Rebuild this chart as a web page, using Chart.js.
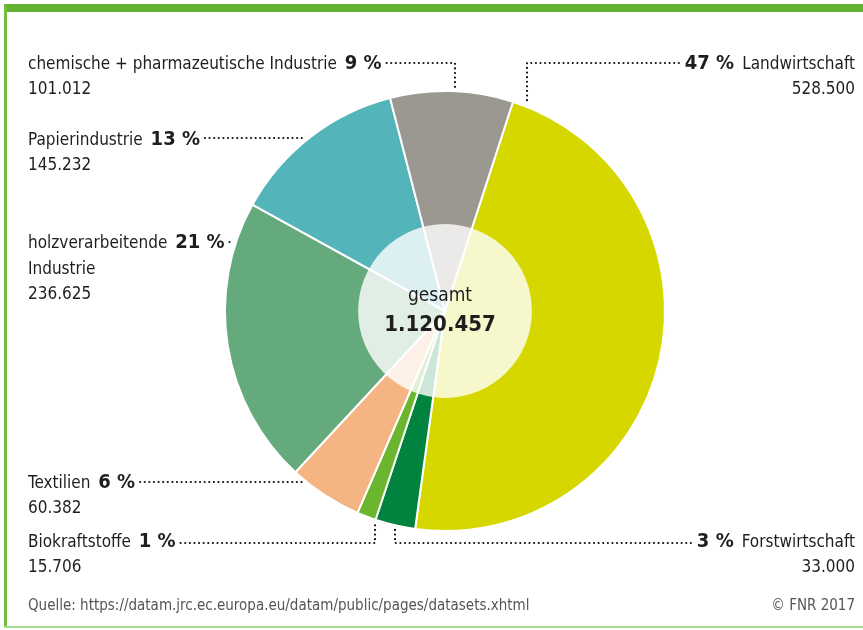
<!DOCTYPE html>
<html>
<head>
<meta charset="utf-8">
<script src="https://cdn.jsdelivr.net/npm/chart.js@4.4.0/dist/chart.umd.min.js"></script>
<style>
	body { margin: 0; background: #fff; }
	#wrap { position: relative; width: 863px; height: 630px; overflow: hidden; }
	#topbar { position: absolute; left: 4px; top: 4px; width: 859px; height: 8px; background: #63b22f; }
	#leftbar { position: absolute; left: 4px; top: 4px; width: 3px; height: 624px; background: #73be3e; }
	#bottombar { position: absolute; left: 4px; top: 626px; width: 859px; height: 2px; background: #a9de90; }
	canvas { position: absolute; left: 0; top: 0; }
</style>
</head>
<body>
<div id="wrap">
	<canvas id="pie" width="863" height="630"></canvas>
	<div id="topbar"></div>
	<div id="leftbar"></div>
	<div id="bottombar"></div>
</div>
<script>
// data, clockwise from the top right
const categories = ['Landwirtschaft', 'Forstwirtschaft', 'Biokraftstoffe', 'Textilien', 'holzverarbeitende Industrie', 'Papierindustrie', 'chemische + pharmazeutische Industrie'];
const values = [528500, 33000, 15706, 60382, 236625, 145232, 101012];
const percentLabels = ['47 %', '3 %', '1 %', '6 %', '21 %', '13 %', '9 %'];
const valueLabels = ['528.500', '33.000', '15.706', '60.382', '236.625', '145.232', '101.012'];
const totalLabel = '1.120.457';
const colors = ['#d7d700', '#00833e', '#6cb52f', '#f4b583', '#64aa7c', '#53b4b9', '#9b9891'];

const FONT = '"Liberation Sans Narrow", "DejaVu Sans Condensed", sans-serif';
const TXT = '#1e1e1e';

// label layout: text lines, side, leader line
const labelLayout = [
	{ i: 0, side: 'right', x: 855, y: 65, lines: ['Landwirtschaft'], lead: { y: 63, vx: 527 } },
	{ i: 1, side: 'right', x: 855, y: 543, lines: ['Forstwirtschaft'], lead: { y: 543, vx: 395, up: true } },
	{ i: 2, side: 'left', x: 28, y: 543, lines: ['Biokraftstoffe'], lead: { y: 543, vx: 375, up: true } },
	{ i: 3, side: 'left', x: 28, y: 484, lines: ['Textilien'], lead: { y: 482 } },
	{ i: 4, side: 'left', x: 28, y: 244, lines: ['holzverarbeitende', 'Industrie'], lead: { y: 242 } },
	{ i: 5, side: 'left', x: 28, y: 141, lines: ['Papierindustrie'], lead: { y: 138 } },
	{ i: 6, side: 'left', x: 28, y: 65, lines: ['chemische + pharmazeutische Industrie'], lead: { y: 63, vx: 455 } }
];

function dotted(ctx, pts) {
	ctx.save();
	ctx.strokeStyle = '#111';
	ctx.lineWidth = 2.2;
	ctx.lineCap = 'round';
	ctx.setLineDash([0.01, 4.6]);
	ctx.beginPath();
	ctx.moveTo(pts[0][0], pts[0][1]);
	for (let k = 1; k < pts.length; k++) ctx.lineTo(pts[k][0], pts[k][1]);
	ctx.stroke();
	ctx.restore();
}

const labelPlugin = {
	id: 'labels',
	afterDatasetsDraw(chart) {
		const ctx = chart.ctx;
		const arc = chart.getDatasetMeta(0).data[0];
		const cx = arc.x, cy = arc.y, r = arc.outerRadius;

		// centre disc
		ctx.save();
		ctx.fillStyle = 'rgba(255,255,255,0.8)';
		ctx.beginPath();
		ctx.arc(cx, cy, r * 0.395, 0, Math.PI * 2);
		ctx.fill();
		ctx.fillStyle = TXT;
		ctx.textAlign = 'center';
		ctx.textBaseline = 'middle';
		ctx.font = '19px ' + FONT;
		ctx.fillText('gesamt', cx - 5, cy - 15);
		ctx.font = 'bold 22px ' + FONT;
		ctx.fillText(totalLabel, cx - 5, cy + 14);
		ctx.restore();

		// labels
		ctx.save();
		ctx.textBaseline = 'middle';
		labelLayout.forEach(function(l) {
			const pct = percentLabels[l.i];
			let endX;
			ctx.font = '17px ' + FONT;
			const nameW = ctx.measureText(l.lines[0]).width;
			ctx.font = 'bold 20px ' + FONT;
			const pctW = ctx.measureText(pct).width;
			if (l.side === 'left') {
				ctx.font = '17px ' + FONT;
				ctx.textAlign = 'left';
				ctx.fillStyle = TXT;
				ctx.fillText(l.lines[0] + ' ', l.x, l.y);
				const sp = ctx.measureText(l.lines[0] + ' ').width + 3;
				ctx.font = 'bold 20px ' + FONT;
				ctx.fillText(pct, l.x + sp, l.y - 1);
				endX = l.x + sp + pctW + 5;
				ctx.font = '17px ' + FONT;
				let yy = l.y;
				for (let k = 1; k < l.lines.length; k++) {
					yy += 26;
					ctx.fillText(l.lines[k], l.x, yy);
				}
				ctx.fillText(valueLabels[l.i], l.x, yy + 25);
				// leader
				if (l.lead.vx !== undefined) {
					const dx = l.lead.vx - cx;
					const h = Math.sqrt(r * r - dx * dx);
					const ey = l.lead.up ? cy + h + 3 : cy - h - 3;
					dotted(ctx, [[endX, l.lead.y], [l.lead.vx, l.lead.y], [l.lead.vx, ey]]);
				} else {
					const dy = l.lead.y - cy;
					const ex = cx - Math.sqrt(r * r - dy * dy) - 4;
					dotted(ctx, [[endX, l.lead.y], [ex, l.lead.y]]);
				}
			} else {
				ctx.font = '17px ' + FONT;
				ctx.textAlign = 'right';
				ctx.fillStyle = TXT;
				ctx.fillText(l.lines[0], l.x, l.y);
				ctx.font = 'bold 20px ' + FONT;
				const sx = l.x - nameW - 8;
				ctx.fillText(pct, sx, l.y - 1);
				ctx.font = '17px ' + FONT;
				ctx.fillText(valueLabels[l.i], l.x, l.y + 25);
				const startX = sx - pctW - 6;
				const dx = l.lead.vx - cx;
				const h = Math.sqrt(r * r - dx * dx);
				const ey = l.lead.up ? cy + h + 3 : cy - h - 3;
				dotted(ctx, [[startX, l.lead.y], [l.lead.vx, l.lead.y], [l.lead.vx, ey]]);
			}
		});

		// footer
		ctx.font = '15px ' + FONT;
		ctx.fillStyle = '#555';
		ctx.textAlign = 'left';
		ctx.fillText('Quelle: https://datam.jrc.ec.europa.eu/datam/public/pages/datasets.xhtml', 28, 606);
		ctx.textAlign = 'right';
		ctx.fillText('\u00a9 FNR 2017', 855, 606);
		ctx.restore();
	}
};

new Chart(document.getElementById('pie').getContext('2d'), {
	type: 'pie',
	data: {
		labels: categories,
		datasets: [{
			data: values,
			backgroundColor: colors,
			borderColor: '#fff',
			borderWidth: 2
		}]
	},
	options: {
		responsive: false,
		animation: false,
		rotation: 18,
		layout: { padding: { top: 90, bottom: 98, left: 224, right: 197 } },
		plugins: {
			legend: { display: false },
			tooltip: { enabled: false }
		}
	},
	plugins: [labelPlugin]
});
</script>
</body>
</html>
